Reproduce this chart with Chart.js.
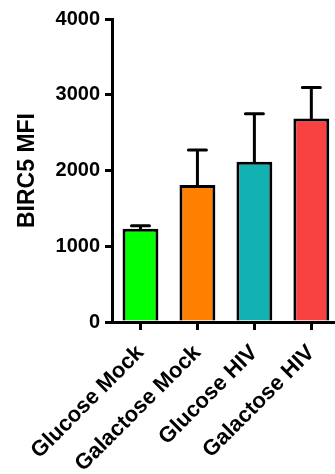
<!DOCTYPE html>
<html>
<head>
<meta charset="utf-8">
<script src="https://cdn.jsdelivr.net/npm/chart.js@4/dist/chart.umd.min.js"></script>
<style>
  html, body { margin: 0; padding: 0; background: #fff; overflow: hidden; }
  #wrap { width: 340px; height: 474px; }
</style>
</head>
<body>
<div id="wrap"><canvas id="birc5-chart" width="340" height="474"></canvas></div>
<script>
const CATEGORIES = ["Glucose Mock", "Galactose Mock", "Glucose HIV", "Galactose HIV"];
const MEANS = [1230, 1810, 2115, 2685];
const SD = [40, 460, 635, 410];
const BAR_COLORS = ["#00ff00", "#ff8000", "#12b2b2", "#f84242"];
const Y_TICKS = [0, 1000, 2000, 3000, 4000];

const FONT = "'Liberation Sans', Arial, sans-serif";

const errorBars = {
    id: "errorBars",
    afterDatasetsDraw(chart) {
        const ctx = chart.ctx;
        const meta = chart.getDatasetMeta(0);
        const y = chart.scales.y;
        ctx.save();
        ctx.strokeStyle = "#000";
        ctx.lineWidth = 3;
        ctx.lineCap = "round";
        meta.data.forEach((bar, i) => {
            const yMean = y.getPixelForValue(MEANS[i]);
            const yTop = y.getPixelForValue(MEANS[i] + SD[i]);
            ctx.beginPath();
            ctx.moveTo(bar.x, yMean);
            ctx.lineTo(bar.x, yTop);
            ctx.moveTo(bar.x - 9, yTop);
            ctx.lineTo(bar.x + 9, yTop);
            ctx.stroke();
        });
        ctx.restore();
    }
};

new Chart(document.getElementById("birc5-chart"), {
    type: "bar",
    data: {
        labels: CATEGORIES,
        datasets: [{
            data: MEANS,
            backgroundColor: BAR_COLORS,
            borderColor: "#000",
            borderWidth: 3,
            categoryPercentage: 1,
            barPercentage: 0.63
        }]
    },
    options: {
        responsive: false,
        animation: false,
        layout: { padding: { top: 19, left: 0, right: 0, bottom: 0 } },
        plugins: {
            legend: { display: false },
            tooltip: { enabled: false }
        },
        scales: {
            x: {
                afterFit(scale) { scale.height = 152; },
                grid: {
                    offset: false,
                    drawOnChartArea: false,
                    drawTicks: true,
                    tickLength: 8,
                    lineWidth: 3,
                    color: "#000"
                },
                border: { display: true, width: 3, color: "#000" },
                ticks: {
                    color: "#000",
                    minRotation: 45,
                    maxRotation: 45,
                    padding: 10,
                    font: { family: FONT, size: 22, weight: "bold" }
                }
            },
            y: {
                min: 0,
                max: 4000,
                afterFit(scale) { scale.width = 112; },
                afterBuildTicks(scale) { scale.ticks = Y_TICKS.map(v => ({ value: v })); },
                grid: {
                    drawOnChartArea: false,
                    drawTicks: true,
                    tickLength: 7,
                    lineWidth: 3,
                    color: "#000"
                },
                border: { display: true, width: 3, color: "#000" },
                ticks: {
                    color: "#000",
                    padding: 5,
                    callback: v => String(v),
                    font: { family: FONT, size: 20, weight: "bold" }
                },
                title: {
                    display: true,
                    text: "BIRC5 MFI",
                    color: "#000",
                    padding: { top: 14, bottom: 0 },
                    font: { family: FONT, size: 23, weight: "bold" }
                }
            }
        }
    },
    plugins: [errorBars]
});
</script>
</body>
</html>
